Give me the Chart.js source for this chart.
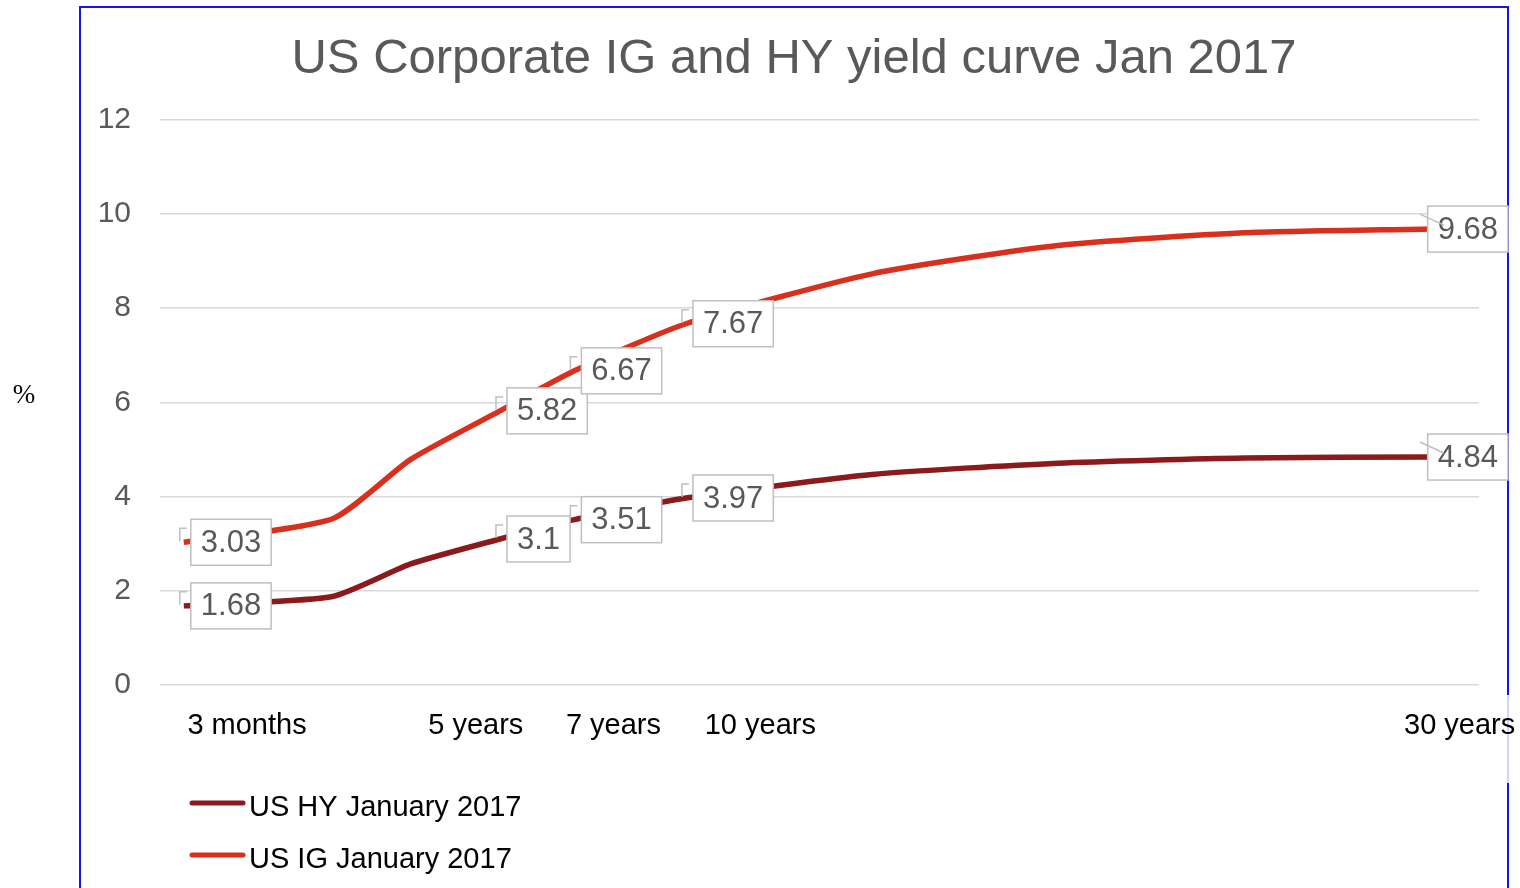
<!DOCTYPE html>
<html>
<head>
<meta charset="utf-8">
<title>US Corporate IG and HY yield curve Jan 2017</title>
<script src="https://cdn.jsdelivr.net/npm/chart.js"></script>
<style>
  html, body { margin: 0; padding: 0; background: #fff; }
</style>
</head>
<body>
<canvas id="curva" width="1520" height="888"></canvas>
<script>
// posição no eixo (anos) e taxas em %
const tenor = [-3.5, 0.5, 2.6, 5, 7, 10, 15, 20, 25, 30];
const hyYield = [1.68, 1.88, 2.57, 3.1, 3.51, 3.97, 4.47, 4.71, 4.82, 4.84];
const igYield = [3.03, 3.53, 4.79, 5.82, 6.67, 7.67, 8.73, 9.33, 9.6, 9.68];
const withLabel = [true, false, false, true, true, true, false, false, false, true];

// rótulos do eixo x
const tickText = ["3 months", "5 years", "7 years", "10 years", "30 years"];
const tickAt = [-1.8, 4.35, 8.05, 12, 30.8];

const seriesNames = ["US HY January 2017", "US IG January 2017"];
const seriesColors = ["#8a1a1b", "#d9301e"];

const FONTE = "'Liberation Sans', Arial, sans-serif";
Chart.defaults.font.family = FONTE;

// Moldura azul e o símbolo de %
const moldura = {
    id: "moldura",
    beforeDraw(chart) {
        const c = chart.ctx;
        c.save();
        c.strokeStyle = "#1414f0";
        c.lineWidth = 2;
        c.beginPath();
        c.moveTo(80, 888); c.lineTo(80, 7); c.lineTo(1508, 7); c.lineTo(1508, 695);
        c.moveTo(1508, 783); c.lineTo(1508, 888);
        c.stroke();
        c.strokeStyle = "#a8a8ff";
        c.lineWidth = 1;
        c.beginPath(); c.moveTo(1508, 695); c.lineTo(1508, 783); c.stroke();
        c.fillStyle = "#000";
        c.font = "27px 'Liberation Serif', serif";
        c.textAlign = "center";
        c.textBaseline = "middle";
        c.fillText("%", 24, 396);
        c.restore();
    }
};

// Caixas com os valores
const rotulos = {
    id: "rotulos",
    afterDatasetsDraw(chart) {
        const c = chart.ctx;
        c.save();
        c.font = "31px " + FONTE;
        c.textBaseline = "middle";
        c.textAlign = "left";
        chart.data.datasets.forEach((ds, d) => {
            const meta = chart.getDatasetMeta(d);
            meta.data.forEach((pt, i) => {
                if (!withLabel[i]) return;
                const txt = String(ds.data[i].y);
                const w = c.measureText(txt).width + 20;
                const h = 46;
                let left = pt.x + 7;
                const moved = left + w > 1508;
                if (moved) left = 1508 - w;
                const top = pt.y - h / 2;
                c.fillStyle = "#fff";
                c.fillRect(left, top, w, h);
                c.strokeStyle = "#bfbfbf";
                c.lineWidth = 1.5;
                c.strokeRect(left, top, w, h);
                c.fillStyle = "#595959";
                c.fillText(txt, left + 10, pt.y + 1);
                // linha de chamada
                c.beginPath();
                if (moved) {
                    c.moveTo(pt.x - 10, pt.y - 15); c.lineTo(pt.x + 14, pt.y - 4);
                } else {
                    c.moveTo(pt.x - 4, pt.y - 1); c.lineTo(pt.x - 4, pt.y - 14); c.lineTo(pt.x + 3, pt.y - 14);
                }
                c.stroke();
            });
        });
        c.restore();
    }
};

// Legenda em duas linhas
const legenda = {
    id: "legenda",
    afterDraw(chart) {
        const c = chart.ctx;
        c.save();
        chart.data.datasets.forEach((ds, i) => {
            const y = 803 + i * 52;
            c.strokeStyle = ds.borderColor;
            c.lineWidth = 5;
            c.lineCap = "round";
            c.beginPath(); c.moveTo(192, y); c.lineTo(243, y); c.stroke();
            c.fillStyle = "#000";
            c.font = "29px " + FONTE;
            c.textAlign = "left";
            c.textBaseline = "middle";
            c.fillText(ds.label, 249, y + 5);
        });
        c.restore();
    }
};

function serie(i, valores) {
    return {
        label: seriesNames[i],
        data: tenor.map((t, k) => ({ x: t, y: valores[k] })),
        borderColor: seriesColors[i],
        backgroundColor: seriesColors[i],
        borderWidth: 5.5,
        pointRadius: 0,
        tension: 0.2,
        fill: false
    };
}

new Chart(document.getElementById("curva"), {
    type: "line",
    data: { datasets: [serie(0, hyYield), serie(1, igYield)] },
    options: {
        responsive: false,
        devicePixelRatio: 1,
        animation: false,
        layout: { padding: { left: 80, right: 12, top: 7, bottom: 143 } },
        plugins: {
            legend: { display: false },
            tooltip: { enabled: false },
            title: {
                display: true,
                text: "US Corporate IG and HY yield curve Jan 2017",
                color: "#595959",
                font: { size: 49, weight: "normal" },
                padding: { top: 23, bottom: 31 }
            }
        },
        scales: {
            x: {
                type: "linear",
                min: -4.14,
                max: 31.32,
                grid: { display: false },
                border: { display: false },
                afterBuildTicks: s => { s.ticks = tickAt.map(v => ({ value: v })); },
                afterFit: s => { s.height = 60; s.paddingLeft = 0; s.paddingRight = 41; },
                ticks: {
                    autoSkip: false,
                    maxRotation: 0,
                    padding: 16,
                    color: "#000",
                    font: { size: 29 },
                    callback: (v, i) => tickText[i]
                }
            },
            y: {
                min: 0,
                max: 12,
                afterFit: s => { s.width = 80; },
                ticks: { stepSize: 2, padding: 29, color: "#595959", font: { size: 30 } },
                grid: { color: "#d9d9d9", lineWidth: 1.5, drawTicks: false },
                border: { display: false }
            }
        }
    },
    plugins: [moldura, rotulos, legenda]
});
</script>
</body>
</html>
